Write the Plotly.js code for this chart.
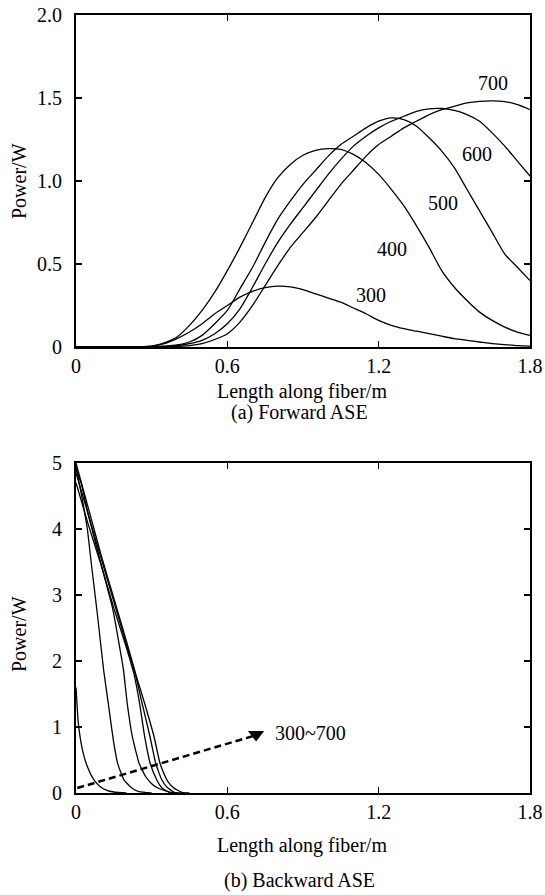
<!DOCTYPE html>
<html><head><meta charset="utf-8">
<script src="https://cdn.plot.ly/plotly-3.0.1.min.js"></script>
<style>html,body{margin:0;padding:0;background:#fff}</style>
</head><body><div id="chart" style="width:545px;height:895px"></div>
<script>
// ---- (a) Forward ASE ----
const fwdX = [0, 0.2, 0.3, 0.35, 0.4, 0.45, 0.5, 0.55, 0.6, 0.65, 0.7, 0.75, 0.8, 0.85, 0.9, 0.95, 1.0, 1.05, 1.1, 1.15, 1.2, 1.25, 1.3, 1.35, 1.4, 1.45, 1.5, 1.55, 1.6, 1.65, 1.7, 1.75, 1.8];
const fwd300 = [0, 0, 0.005, 0.02, 0.05, 0.09, 0.14, 0.2, 0.25, 0.3, 0.335, 0.357, 0.366, 0.362, 0.345, 0.32, 0.295, 0.27, 0.235, 0.2, 0.16, 0.13, 0.11, 0.095, 0.08, 0.065, 0.05, 0.04, 0.03, 0.02, 0.014, 0.008, 0.005];
const fwd400 = [0, 0, 0.005, 0.025, 0.06, 0.13, 0.22, 0.33, 0.46, 0.6, 0.75, 0.9, 1.02, 1.1, 1.155, 1.185, 1.195, 1.19, 1.16, 1.11, 1.04, 0.95, 0.85, 0.73, 0.6, 0.46, 0.36, 0.28, 0.21, 0.16, 0.12, 0.09, 0.07];
const fwd500 = [0, 0, 0, 0.005, 0.012, 0.03, 0.07, 0.14, 0.22, 0.35, 0.48, 0.63, 0.77, 0.88, 0.98, 1.065, 1.15, 1.22, 1.27, 1.32, 1.36, 1.38, 1.37, 1.33, 1.26, 1.18, 1.08, 0.95, 0.82, 0.69, 0.56, 0.48, 0.40];
const fwd600 = [0, 0, 0, 0.003, 0.008, 0.02, 0.04, 0.08, 0.14, 0.23, 0.36, 0.5, 0.63, 0.74, 0.84, 0.94, 1.04, 1.13, 1.21, 1.27, 1.32, 1.36, 1.39, 1.42, 1.435, 1.437, 1.425, 1.40, 1.36, 1.29, 1.21, 1.12, 1.03];
const fwd700 = [0, 0, 0, 0, 0.003, 0.008, 0.02, 0.045, 0.08, 0.15, 0.25, 0.37, 0.49, 0.6, 0.69, 0.78, 0.88, 0.98, 1.065, 1.15, 1.22, 1.27, 1.32, 1.36, 1.40, 1.43, 1.45, 1.47, 1.48, 1.483, 1.478, 1.46, 1.43];
const fwdLabels = ['300', '400', '500', '600', '700'];

// ---- (b) Backward ASE ----
const bwd1X = [0, 0.004, 0.008, 0.015, 0.022, 0.032, 0.045, 0.06, 0.075, 0.095, 0.12, 0.15, 0.2];
const bwd1Y = [1.6, 1.35, 1.1, 0.88, 0.72, 0.55, 0.4, 0.27, 0.18, 0.1, 0.045, 0.015, 0.0];
const bwd2X = [0, 0.02, 0.045, 0.06, 0.085, 0.11, 0.13, 0.148, 0.165, 0.19, 0.22, 0.25, 0.3];
const bwd2Y = [4.95, 4.55, 4.0, 3.5, 2.7, 1.85, 1.3, 0.8, 0.45, 0.2, 0.08, 0.02, 0.0];
const bwd3X = [0, 0.02, 0.05, 0.095, 0.145, 0.188, 0.203, 0.223, 0.25, 0.276, 0.3, 0.322, 0.35, 0.375, 0.4];
const bwd3Y = [4.9, 4.7, 4.2, 3.53, 2.8, 1.87, 1.36, 0.86, 0.45, 0.25, 0.14, 0.08, 0.04, 0.01, 0];
const bwd4X = [0, 0.05, 0.1, 0.15, 0.2, 0.23, 0.252, 0.272, 0.294, 0.32, 0.34, 0.37, 0.4];
const bwd4Y = [4.7, 4.05, 3.45, 2.8, 2.2, 1.8, 1.36, 0.86, 0.45, 0.2, 0.08, 0.01, 0];
const bwd5X = [0, 0.05, 0.1, 0.15, 0.2, 0.235, 0.262, 0.293, 0.316, 0.34, 0.36, 0.39, 0.42];
const bwd5Y = [4.85, 4.2, 3.55, 2.9, 2.25, 1.8, 1.36, 0.86, 0.45, 0.2, 0.09, 0.01, 0];
const bwd6X = [0, 0.05, 0.1, 0.15, 0.2, 0.24, 0.272, 0.309, 0.333, 0.35, 0.365, 0.39, 0.42, 0.45];
const bwd6Y = [5.0, 4.3, 3.6, 2.95, 2.3, 1.76, 1.36, 0.86, 0.45, 0.28, 0.17, 0.07, 0.01, 0];
const arrowX = [0.005, 0.70];
const arrowY = [0.075, 0.86];
const arrowHeadX = [0.714];
const arrowHeadY = [0.885];
const bwdLabel = '300~700';

// ---- ticks ----
const xTickVals = [0, 0.6, 1.2, 1.8];
const xTickText = ['0', '0.6', '1.2', '1.8'];
const yaTickVals = [0, 0.5, 1.0, 1.5, 2.0];
const yaTickText = ['0', '0.5', '1.0', '1.5', '2.0'];
const ybTickVals = [0, 1, 2, 3, 4, 5];
const ybTickText = ['0', '1', '2', '3', '4', '5'];

const FONT = 'Liberation Serif, Times New Roman, serif';
const lineStyle = {color: '#000', width: 1.3, shape: 'spline', smoothing: 0.6};

const traces = [];
[fwd300, fwd400, fwd500, fwd600, fwd700].forEach((ys, i) => {
  traces.push({x: fwdX, y: ys, type: 'scatter', mode: 'lines', name: fwdLabels[i],
    line: lineStyle, xaxis: 'x', yaxis: 'y', hoverinfo: 'skip'});
});
[[bwd1X, bwd1Y], [bwd2X, bwd2Y], [bwd3X, bwd3Y], [bwd4X, bwd4Y], [bwd5X, bwd5Y], [bwd6X, bwd6Y]].forEach(([xs, ys]) => {
  traces.push({x: xs, y: ys, type: 'scatter', mode: 'lines',
    line: {color: '#000', width: 1.3, shape: 'spline', smoothing: 0.4}, xaxis: 'x2', yaxis: 'y2', hoverinfo: 'skip'});
});
traces.push({x: arrowX, y: arrowY, type: 'scatter', mode: 'lines',
  line: {color: '#000', width: 2.5, dash: '7px,4px'}, xaxis: 'x2', yaxis: 'y2', hoverinfo: 'skip'});
traces.push({x: arrowHeadX, y: arrowHeadY, type: 'scatter', mode: 'markers',
  marker: {symbol: 'triangle-down', size: 14, color: '#000'}, xaxis: 'x2', yaxis: 'y2', hoverinfo: 'skip'});

const axisCommon = {
  showline: true, linecolor: '#000', linewidth: 2, mirror: 'ticks',
  ticks: 'inside', ticklen: 6, tickwidth: 1.5, tickcolor: '#000',
  showgrid: false, zeroline: false, fixedrange: true,
  tickfont: {family: FONT, size: 20, color: '#000'}
};

const py = p => (793 - p) / 778;   // pixel row -> paper y
const px = p => (p - 76) / 454;    // pixel col -> paper x
const paperText = (text, x, y, extra) => Object.assign({text: text, x: px(x), y: py(y), xref: 'paper', yref: 'paper',
  xanchor: 'center', yanchor: 'middle', showarrow: false}, extra || {});

const layout = {
  width: 545, height: 895,
  margin: {l: 76, r: 15, t: 15, b: 102},
  paper_bgcolor: '#fff', plot_bgcolor: '#fff',
  showlegend: false,
  font: {family: FONT, size: 20, color: '#000'},
  xaxis: Object.assign({}, axisCommon, {domain: [0, 1], range: [0, 1.8], tickvals: xTickVals, ticktext: xTickText, anchor: 'y', ticklabelstandoff: 0}),
  yaxis: Object.assign({}, axisCommon, {domain: [0.5733, 1], range: [0, 2], tickvals: yaTickVals, ticktext: yaTickText, anchor: 'x', ticklabelstandoff: 8}),
  xaxis2: Object.assign({}, axisCommon, {domain: [0, 1], range: [0, 1.8], tickvals: xTickVals, ticktext: xTickText, anchor: 'y2', ticklabelstandoff: 0}),
  yaxis2: Object.assign({}, axisCommon, {domain: [0, 0.4242], range: [0, 5], tickvals: ybTickVals, ticktext: ybTickText, anchor: 'x2', ticklabelstandoff: 8}),
  annotations: [
    {text: '700', x: 1.652, y: 1.592, xref: 'x', yref: 'y', showarrow: false},
    {text: '600', x: 1.589, y: 1.164, xref: 'x', yref: 'y', showarrow: false},
    {text: '500', x: 1.454, y: 0.870, xref: 'x', yref: 'y', showarrow: false},
    {text: '400', x: 1.252, y: 0.593, xref: 'x', yref: 'y', showarrow: false},
    {text: '300', x: 1.169, y: 0.312, xref: 'x', yref: 'y', showarrow: false},
    {text: bwdLabel, x: 0.781, y: 0.905, xref: 'x2', yref: 'y2', xanchor: 'left', showarrow: false},
    paperText('Length along fiber/m', 302, 392),
    paperText('(a) Forward ASE', 299, 412),
    paperText('Length along fiber/m', 302, 845),
    paperText('(b) Backward ASE', 299, 880),
    paperText('Power/W', 19, 181, {textangle: -90}),
    paperText('Power/W', 19, 634, {textangle: -90})
  ]
};

Plotly.newPlot('chart', traces, layout, {staticPlot: true, displayModeBar: false});
</script>
</body></html>
